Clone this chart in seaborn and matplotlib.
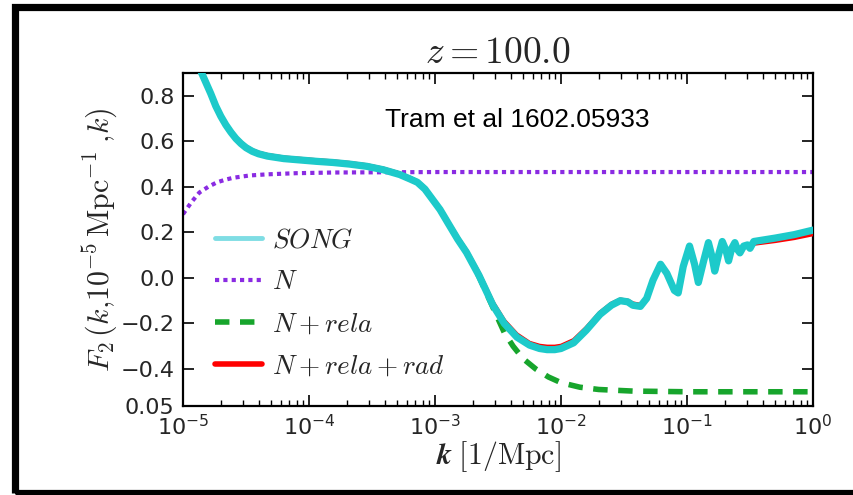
import numpy as np
import pandas as pd
import matplotlib
matplotlib.use("Agg")
import matplotlib.pyplot as plt
import seaborn as sns
from matplotlib.font_manager import FontProperties
from matplotlib.lines import Line2D
from matplotlib.patches import Rectangle

# ---------------- data (log10 k, F2) ----------------
song_logk = [-4.95, -4.90, -4.86, -4.82, -4.78, -4.74, -4.70, -4.66, -4.62, -4.58,
             -4.54, -4.50, -4.45, -4.40, -4.33, -4.20, -4.07, -3.94, -3.81, -3.68,
             -3.54, -3.41, -3.28, -3.20, -3.14, -3.08, -3.02, -2.96, -2.90, -2.82,
             -2.75, -2.65, -2.54, -2.45, -2.35, -2.25, -2.17, -2.11, -2.05, -2.00,
             -1.90, -1.80, -1.69, -1.60, -1.53, -1.47, -1.43, -1.37, -1.32, -1.27,
             -1.21, -1.16, -1.10, -1.07, -1.03, -0.98, -0.94, -0.91, -0.87, -0.83,
             -0.80, -0.78, -0.75, -0.72, -0.69, -0.67, -0.645, -0.62, -0.60, -0.58,
             -0.55, -0.52, -0.50, -0.47, -0.30, -0.15, 0.0]
song_F = [1.00, 0.95, 0.91, 0.86, 0.81, 0.755, 0.71, 0.672, 0.640, 0.612,
          0.590, 0.572, 0.556, 0.545, 0.535, 0.524, 0.518, 0.512, 0.507, 0.500,
          0.490, 0.475, 0.454, 0.435, 0.420, 0.390, 0.345, 0.300, 0.244, 0.170,
          0.112, 0.010, -0.120, -0.200, -0.260, -0.295, -0.310, -0.315, -0.315, -0.310,
          -0.285, -0.230, -0.160, -0.120, -0.100, -0.105, -0.120, -0.125, -0.090, -0.010,
          0.060, 0.020, -0.055, -0.066, 0.050, 0.140, 0.060, -0.020, 0.070, 0.155,
          0.090, 0.030, 0.100, 0.160, 0.120, 0.075, 0.130, 0.155, 0.125, 0.110,
          0.140, 0.145, 0.130, 0.160, 0.175, 0.190, 0.210]

rad_logk = song_logk
rad_F = [1.00, 0.955, 0.915, 0.865, 0.815, 0.760, 0.715, 0.677, 0.645, 0.617,
         0.595, 0.577, 0.561, 0.550, 0.540, 0.529, 0.523, 0.517, 0.512, 0.505,
         0.495, 0.480, 0.459, 0.440, 0.425, 0.395, 0.350, 0.305, 0.250, 0.178,
         0.120, 0.020, -0.108, -0.188, -0.248, -0.285, -0.298, -0.302, -0.302, -0.298,
         -0.273, -0.220, -0.152, -0.113, -0.095, -0.100, -0.112, -0.118, -0.085, -0.010,
         0.055, 0.018, -0.050, -0.060, 0.045, 0.130, 0.058, -0.012, 0.065, 0.145,
         0.088, 0.035, 0.095, 0.150, 0.115, 0.078, 0.125, 0.145, 0.122, 0.110,
         0.135, 0.138, 0.128, 0.150, 0.162, 0.175, 0.192]

rela_logk = [-4.95, -4.90, -4.86, -4.82, -4.78, -4.74, -4.70, -4.66, -4.62, -4.58,
             -4.54, -4.50, -4.45, -4.40, -4.33, -4.20, -4.07, -3.94, -3.81, -3.68,
             -3.54, -3.41, -3.28, -3.20, -3.14, -3.08, -3.02, -2.96, -2.90, -2.82,
             -2.75, -2.65, -2.54, -2.45, -2.38, -2.30, -2.20, -2.10, -2.00, -1.85,
             -1.70, -1.43, -1.00, -0.50, 0.0]
rela_F = [1.00, 0.95, 0.91, 0.86, 0.81, 0.755, 0.71, 0.672, 0.640, 0.612,
          0.590, 0.572, 0.556, 0.545, 0.535, 0.524, 0.518, 0.512, 0.507, 0.500,
          0.490, 0.475, 0.454, 0.435, 0.420, 0.390, 0.345, 0.300, 0.244, 0.170,
          0.112, 0.005, -0.130, -0.240, -0.300, -0.355, -0.400, -0.435, -0.460, -0.480,
          -0.490, -0.497, -0.500, -0.500, -0.500]

newt_logk = [-5.0, -4.93, -4.87, -4.80, -4.73, -4.66, -4.60, -4.47, -4.33, -4.10,
             -3.80, -3.00, -2.00, -1.00, 0.0]
newt_F = [0.280, 0.335, 0.375, 0.400, 0.420, 0.432, 0.440, 0.450, 0.455, 0.460,
          0.463, 0.465, 0.465, 0.465, 0.465]

ytick_vals = [-0.5625, -0.4, -0.2, 0.0, 0.2, 0.4, 0.6, 0.8]
ytick_labels = ["0.05", "\u22120.4", "\u22120.2", "0.0", "0.2", "0.4", "0.6", "0.8"]
xtick_vals = [1e-5, 1e-4, 1e-3, 1e-2, 1e-1, 1e0]
xtick_labels = [r"$10^{-5}$", r"$10^{-4}$", r"$10^{-3}$", r"$10^{-2}$", r"$10^{-1}$", r"$10^{0}$"]
legend_labels = [r"$SONG$", r"$N$", r"$N+rela$", r"$N+rela+rad$"]

# ---------------- style ----------------
sns.set_style("ticks", {"xtick.direction": "in", "ytick.direction": "in"})
plt.rcParams["font.family"] = ["DejaVu Sans"]
plt.rcParams["mathtext.fontset"] = "dejavusans"

c_song = "#1dcaca"
c_song_leg = "#7fdde4"
c_newt = "#8a2be2"
c_rela = "#17a52c"
c_rad = "#ff0000"
dots = (0, (1.0, 1.0))
dashes = (0, (2.6, 1.9))

fig = plt.figure(figsize=(8.54, 4.95), dpi=100)
ax = fig.add_axes([183 / 854, 1 - 406 / 495, (813 - 183) / 854, (406 - 73) / 495])

def frame(logk, F):
    return pd.DataFrame({"k": np.power(10.0, np.array(logk)), "F": np.array(F)})

sns.lineplot(data=frame(newt_logk, newt_F), x="k", y="F", ax=ax, color=c_newt,
             lw=3.0, linestyle=dots, estimator=None, sort=False, zorder=2)
sns.lineplot(data=frame(rela_logk, rela_F), x="k", y="F", ax=ax, color=c_rela,
             lw=4, linestyle=dashes, estimator=None, sort=False, zorder=3)
sns.lineplot(data=frame(rad_logk, rad_F), x="k", y="F", ax=ax, color=c_rad,
             lw=3, estimator=None, sort=False, zorder=4)
sns.lineplot(data=frame(song_logk, song_F), x="k", y="F", ax=ax, color=c_song,
             lw=5.2, estimator=None, sort=False, zorder=5)

ax.set_xscale("log")
ax.set_xlim(1e-5, 1.0)
ax.set_ylim(-0.5625, 0.90)
ax.set_xticks(xtick_vals)
ax.set_xticklabels(xtick_labels, fontsize=16)
ax.set_yticks(ytick_vals)
ax.set_yticklabels(ytick_labels, fontsize=16)
ax.xaxis.set_minor_locator(matplotlib.ticker.LogLocator(base=10, subs=np.arange(2, 10) * 1.0, numticks=20))
ax.xaxis.set_minor_formatter(matplotlib.ticker.NullFormatter())
ax.tick_params(which="both", direction="in", top=True, right=True, color="black")
ax.tick_params(which="major", length=8, width=1.2, pad=6)
ax.tick_params(which="minor", length=4, width=1.0)
for s in ax.spines.values():
    s.set_linewidth(1.6)
    s.set_color("black")

ax.set_title(r"$z=100.0$", pad=7, fontproperties=FontProperties(size=27, math_fontfamily="cm"))
ax.set_xlabel(r"$\boldsymbol{k}\;[1/\mathrm{Mpc}]$", fontproperties=FontProperties(size=21.5, math_fontfamily="cm"), labelpad=0)
ax.set_ylabel(r"$F_2\,(k{,}10^{-5}\,\mathrm{Mpc}^{-1}\;{,}k)$", fontproperties=FontProperties(size=21.5, math_fontfamily="cm"), labelpad=1)

ax.text(0.32, 0.86, "Tram et al 1602.05933", transform=ax.transAxes, ha="left", va="center",
        fontsize=19, family="Liberation Sans", color="black")

handles = [Line2D([], [], color=c_song_leg, lw=3.5),
           Line2D([], [], color=c_newt, lw=3.0, linestyle=dots),
           Line2D([], [], color=c_rela, lw=4, linestyle=dashes),
           Line2D([], [], color=c_rad, lw=4)]
ax.legend(handles, legend_labels, loc="lower left", bbox_to_anchor=(0.012, 0.005), frameon=False,
          prop=FontProperties(size=19.5, math_fontfamily="cm"), handlelength=1.75,
          labelspacing=0.6, handletextpad=0.35)

fig.patches.append(Rectangle((15.5 / 854, 1 - 492.5 / 495), 1.1, (492.5 - 6.5) / 495,
                             transform=fig.transFigure, fill=False, edgecolor="black",
                             lw=5.2, zorder=10))

fig.savefig("out.png", dpi=100)
